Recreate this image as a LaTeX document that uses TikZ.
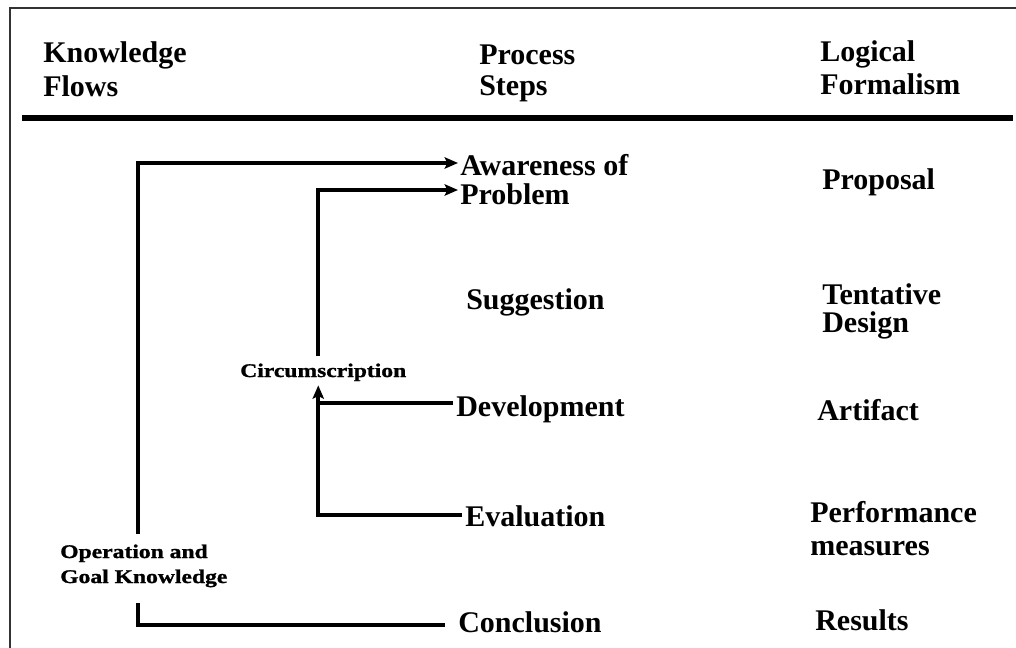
\documentclass[tikz,border=0pt]{standalone}
\usepackage{fontspec}
\setmainfont{Liberation Serif}
\newfontfamily\lblfont{Liberation Serif}[FakeStretch=1.22,FakeBold=1.2]
\usetikzlibrary{arrows.meta,calc}
\begin{document}
\begin{tikzpicture}[x=0.75pt,y=-0.75pt,
  txt/.style={inner sep=0pt, anchor=base west, align=left, font=\fontsize{22.5}{#1}\selectfont\bfseries},
  txt/.default=24.75,
  small/.style={inner sep=0pt, anchor=base west, align=left, font=\lblfont\fontsize{14.5}{18.75}\selectfont\bfseries},
  flow/.style={line width=3pt},
  arr/.style={flow, -{Stealth[length=10pt,width=8.5pt,inset=2pt]}}]
\useasboundingbox (0,0) rectangle (1016,648);
\draw[black!80,line width=1.2pt] (10,648) -- (10,8) -- (1016,8);
\draw[line width=4pt] (22,118) -- (1013,118);

% headers (base anchor = baseline of last line)
\node[txt=25.5] (kf) at (43,97) {Knowledge\\Flows};
\node[txt=23.25] (ps) at (479,96) {Process\\Steps};
\node[txt=24.75] (lf) at (820,95) {Logical\\Formalism};

% process steps
\node[txt=21.75] (aware) at (460,205) {Awareness of\\Problem};
\node[txt] (sug) at (466,310) {Suggestion};
\node[txt] (dev) at (456,416) {Development};
\node[txt] (eval) at (465,526) {Evaluation};
\node[txt] (concl) at (458,632) {Conclusion};

% logical formalism
\node[txt] (prop) at (822,190) {Proposal};
\node[txt=20.5] (td) at (822,332) {Tentative\\Design};
\node[txt] (art) at (817,420) {Artifact};
\node[txt=24.75] (pm) at (810,555) {Performance\\measures};
\node[txt] (res) at (815,630) {Results};

% knowledge flows labels
\node[small] (circ) at (240,377) {Circumscription};
\node[small] (ogk) at (60,583) {Operation and\\Goal Knowledge};

% junction coordinates
\coordinate (ot) at ($(ogk.north west)+(78,-10)$);
\coordinate (ob) at ($(ogk.south west)+(78,15)$);
\coordinate (cj) at ($(circ.south)+(-5,4)$);
\coordinate (ct) at ($(circ.north)+(-5,-7)$);
\coordinate (devpt) at ($(dev.base west)+(-3,-13)$);
\coordinate (evalpt) at ($(eval.base west)+(-3,-11)$);

% connectors
\draw[arr] (ot) |- ($(aware.base west)+(-2,-42)$);
\draw[flow] (ob) |- ($(concl.base west)+(-13,-7)$);
\draw[arr] (ct) |- ($(aware.base west)+(-2,-15)$);
\draw[arr] (evalpt) -| (cj);
\draw[flow] (devpt) -- (devpt -| cj);
\end{tikzpicture}
\end{document}
